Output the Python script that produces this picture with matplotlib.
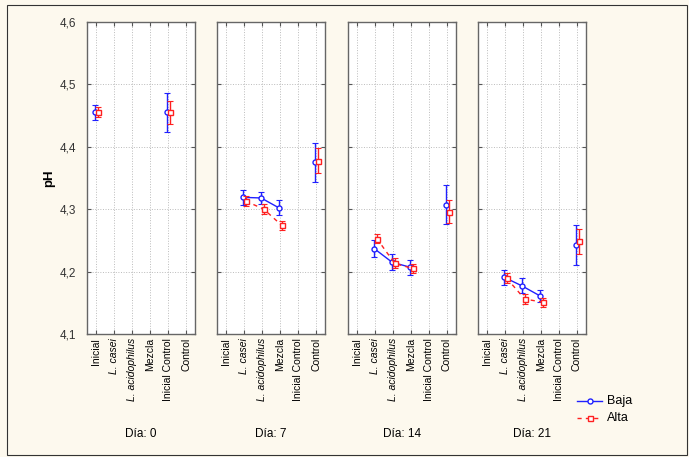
import numpy as np
import matplotlib.pyplot as plt
from matplotlib.ticker import FuncFormatter

plt.rcParams['font.family'] = ['Liberation Sans', 'DejaVu Sans']

cats = ['Inicial', 'L. casei', 'L. acidophilus', 'Mezcla', 'Inicial Control', 'Control']
days = ['Día: 0', 'Día: 7', 'Día: 14', 'Día: 21']

# mean pH per day and category (nan = no data)
baja = [
    [4.455, np.nan, np.nan, np.nan, 4.455, np.nan],
    [np.nan, 4.319, 4.318, 4.302, np.nan, 4.375],
    [np.nan, 4.237, 4.215, 4.207, np.nan, 4.307],
    [np.nan, 4.191, 4.177, 4.161, np.nan, 4.242],
]
baja_err = [
    [0.012, 0, 0, 0, 0.031, 0],
    [0, 0.012, 0.010, 0.012, 0, 0.031],
    [0, 0.013, 0.013, 0.012, 0, 0.031],
    [0, 0.012, 0.012, 0.010, 0, 0.032],
]
alta = [
    [4.455, np.nan, np.nan, np.nan, 4.455, np.nan],
    [np.nan, 4.313, 4.300, 4.274, np.nan, 4.378],
    [np.nan, 4.253, 4.213, 4.205, np.nan, 4.296],
    [np.nan, 4.189, 4.156, 4.151, np.nan, 4.249],
]
alta_err = [
    [0.008, 0, 0, 0, 0.018, 0],
    [0, 0.008, 0.008, 0.007, 0, 0.020],
    [0, 0.007, 0.008, 0.007, 0, 0.018],
    [0, 0.008, 0.008, 0.007, 0, 0.020],
]

bg = '#fdf9ee'
blue = '#2020ff'
red = '#ff2020'

fig = plt.figure(figsize=(6.89, 4.57), dpi=100, facecolor=bg)
fig.patches.append(plt.Rectangle((7 / 689, 2 / 457), 680 / 689, 450 / 457, transform=fig.transFigure,
                                 fill=False, edgecolor='#333333', linewidth=0.8))

lefts = [87, 217, 348, 478]
x = np.arange(len(cats))
for i, left in enumerate(lefts):
    ax = fig.add_axes([left / 689, 1 - 334 / 457, 108 / 689, 312 / 457])
    ax.set_facecolor('white')
    # connected segments: the three treatments; other points stand alone
    for vals, errs, col, mk, ls, dx in [(baja[i], baja_err[i], blue, 'o', '-', -0.05),
                                       (alta[i], alta_err[i], red, 's', (0, (3, 3)), 0.1)]:
        v = np.array(vals, dtype=float)
        e = np.array(errs, dtype=float)
        ax.plot(x[1:4] + dx, v[1:4], color=col, ls=ls, lw=1)
        ok = ~np.isnan(v)
        ax.errorbar(x[ok] + dx, v[ok], yerr=e[ok], fmt='none', ecolor=col, elinewidth=1,
                    capsize=2, capthick=0.8)
        ax.plot(x[ok] + dx, v[ok], ls='none', marker=mk, ms=3.6, mfc='white', mec=col, mew=1)
    ax.set_xlim(-0.5, 5.5)
    ax.set_ylim(4.1, 4.6)
    ax.set_yticks([4.1, 4.2, 4.3, 4.4, 4.5, 4.6])
    ax.set_xticks(x)
    ax.set_xticklabels(cats, rotation=90, fontsize=7.5)
    for lab in ax.get_xticklabels()[1:3]:
        lab.set_style('italic')
    ax.grid(True, color='#bbbbbb', ls=':', lw=0.7)
    ax.tick_params(direction='in', top=True, right=True, length=3, width=0.8, color='#555555')
    ax.tick_params(axis='x', pad=3)
    for sp in ax.spines.values():
        sp.set_color('#666666')
        sp.set_linewidth(1)
    if i == 0:
        ax.yaxis.set_major_formatter(FuncFormatter(lambda v, p: f'{v:.1f}'.replace('.', ',')))
        ax.tick_params(axis='y', labelsize=8.5, labelcolor='#333333', pad=8)
        ax.set_ylabel('pH', fontsize=9.5, fontweight='bold', labelpad=3)
    else:
        ax.set_yticklabels([])
    fig.text((left + 54) / 689, 1 - 434 / 457, days[i], ha='center', va='center', fontsize=8.5)

# legend
fig.lines.append(plt.Line2D([577 / 689, 602 / 689], [1 - 401 / 457] * 2, color=blue, lw=1,
                            transform=fig.transFigure))
fig.lines.append(plt.Line2D([589.5 / 689], [1 - 401 / 457], color=blue, marker='o', ms=3.6, mfc='white',
                            mec=blue, transform=fig.transFigure))
fig.lines.append(plt.Line2D([577 / 689, 602 / 689], [1 - 418 / 457] * 2, color=red, lw=1, ls=(0, (3, 3)),
                            transform=fig.transFigure))
fig.lines.append(plt.Line2D([589.5 / 689], [1 - 418 / 457], color=red, marker='s', ms=3.6, mfc='white',
                            mec=red, transform=fig.transFigure))
fig.text(607 / 689, 1 - 401 / 457, 'Baja', va='center', fontsize=9)
fig.text(607 / 689, 1 - 418 / 457, 'Alta', va='center', fontsize=9)

fig.savefig('out.png', dpi=100, facecolor=bg)
